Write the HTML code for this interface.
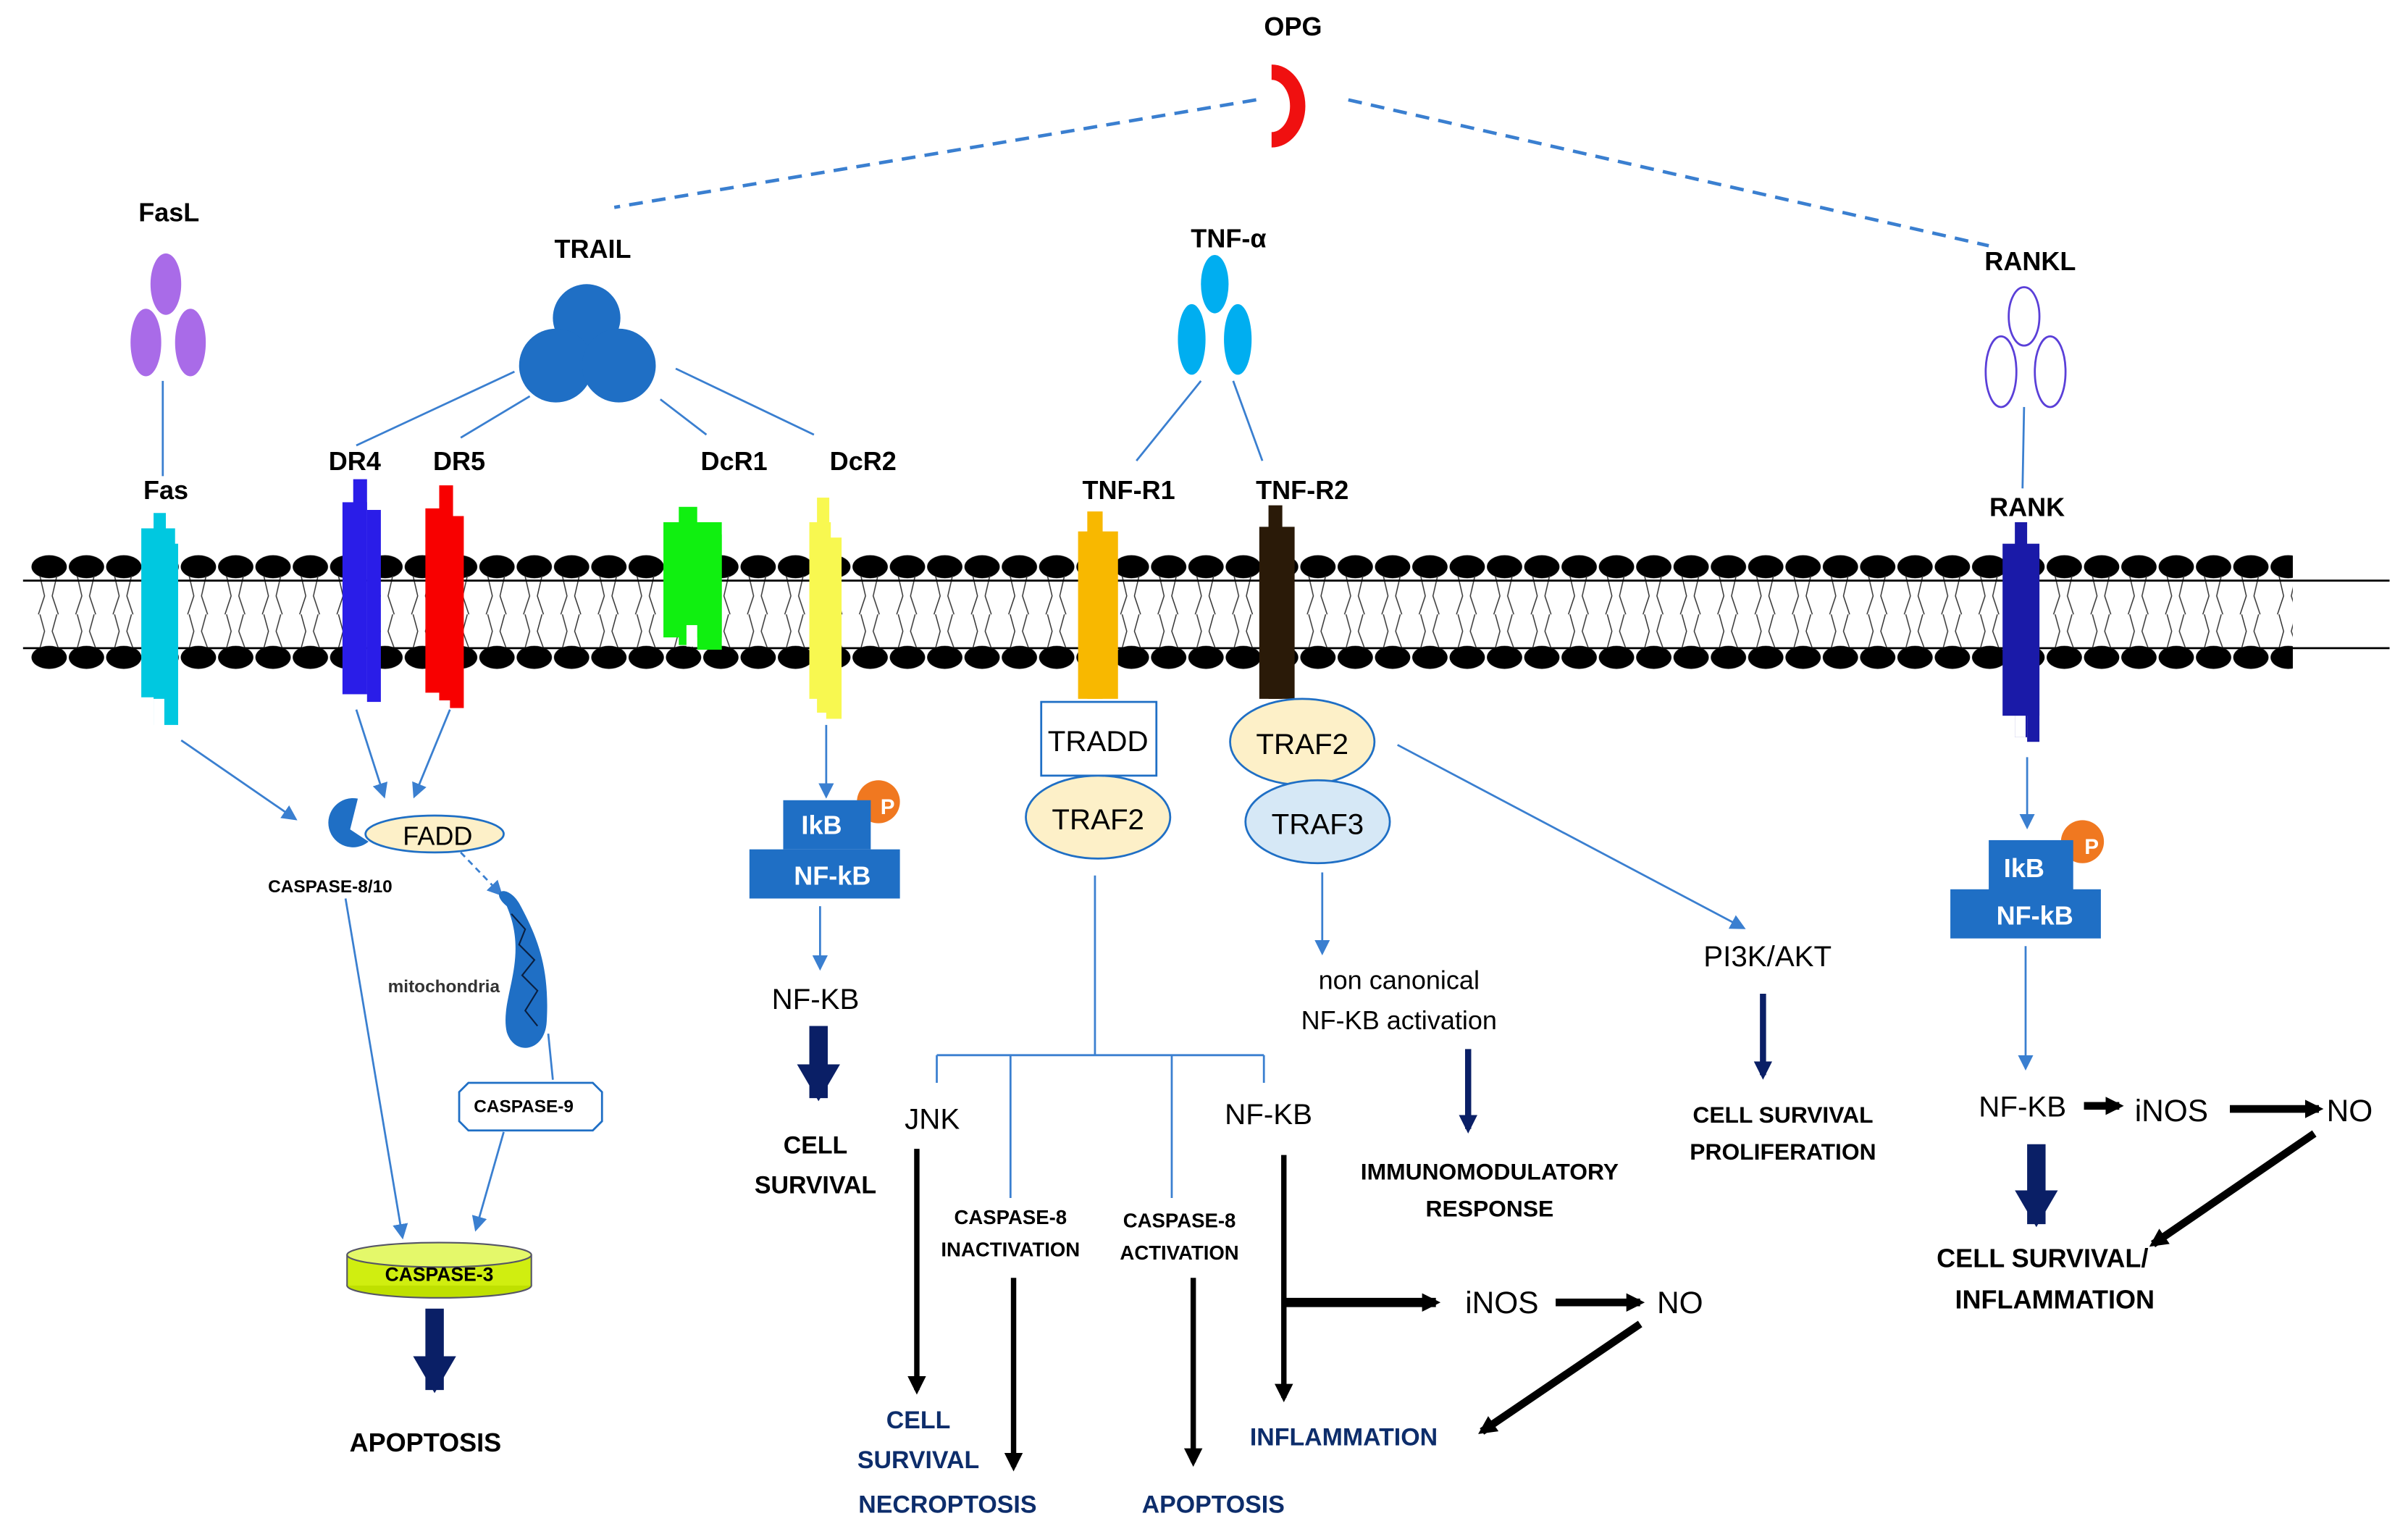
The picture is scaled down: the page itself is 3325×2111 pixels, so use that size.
<!DOCTYPE html>
<html><head><meta charset="utf-8"><style>
html,body{margin:0;padding:0;background:#fff;}
svg{display:block;}
text{font-family:"Liberation Sans",sans-serif;}
.b{font-weight:bold;}
</style></head><body>
<svg width="3325" height="2111" viewBox="0 0 1568 995.5" xmlns="http://www.w3.org/2000/svg">
<defs>
<pattern id="lip" x="20" y="355" width="24.3" height="90" patternUnits="userSpaceOnUse">
<ellipse cx="12" cy="14" rx="11.5" ry="7.5" fill="#000"/>
<ellipse cx="12" cy="73" rx="11.5" ry="7.5" fill="#000"/>
<path d="M6 20 L9 33 L5 45 M17 20 L14 33 L18 45 M6 45 L9 56 L6 67 M17 45 L14 56 L18 67" stroke="#333" stroke-width="0.7" fill="none"/>
</pattern>
<marker id="ab" markerWidth="10" markerHeight="10" refX="8" refY="5" orient="auto" markerUnits="userSpaceOnUse"><path d="M0 0 L10 5 L0 10 z" fill="#3a7fd0"/></marker>
<marker id="ak" markerWidth="12" markerHeight="12" refX="9" refY="6" orient="auto" markerUnits="userSpaceOnUse"><path d="M0 0 L12 6 L0 12 z" fill="#000"/></marker>
<marker id="an" markerWidth="12" markerHeight="12" refX="9" refY="6" orient="auto" markerUnits="userSpaceOnUse"><path d="M0 0 L12 6 L0 12 z" fill="#0a1f66"/></marker>
<marker id="anb" markerWidth="30" markerHeight="28" refX="22" refY="14" orient="auto" markerUnits="userSpaceOnUse"><path d="M0 0 L24 14 L0 28 z" fill="#0a1f66"/></marker>
</defs>

<rect x="20" y="355" width="1473" height="90" fill="url(#lip)"/>
<line x1="15" y1="378" x2="1556" y2="378" stroke="#000" stroke-width="1.3"/>
<line x1="15" y1="422" x2="1556" y2="422" stroke="#000" stroke-width="1.3"/>

<text x="842" y="23" class="b" font-size="17" text-anchor="middle">OPG</text>
<path d="M828 42 A22 27 0 0 1 828 96 L828 86 A12 17 0 0 0 828 52 Z" fill="#f01010"/>
<line x1="818" y1="65" x2="400" y2="135" stroke="#3a7fd0" stroke-width="2.2" stroke-dasharray="9,6"/>
<line x1="878" y1="65" x2="1295" y2="160" stroke="#3a7fd0" stroke-width="2.2" stroke-dasharray="9,6"/>

<text x="110" y="144" class="b" font-size="17" text-anchor="middle">FasL</text>
<ellipse cx="108" cy="185" rx="10" ry="20" fill="#a96be8"/>
<ellipse cx="95" cy="223" rx="10" ry="22" fill="#a96be8"/>
<ellipse cx="124" cy="223" rx="10" ry="22" fill="#a96be8"/>
<line x1="106" y1="248" x2="106" y2="310" stroke="#3a7fd0" stroke-width="1.3"/>
<text x="108" y="325" class="b" font-size="17" text-anchor="middle">Fas</text>
<g fill="#00c8e0"><rect x="100" y="334" width="8" height="138"/><rect x="92" y="344" width="22" height="110"/><rect x="108" y="354" width="8" height="118"/></g>
<rect x="100" y="455" width="7" height="20" fill="#fff"/>

<text x="386" y="168" class="b" font-size="17" text-anchor="middle">TRAIL</text>
<circle cx="382" cy="207" r="22" fill="#1f6fc5"/>
<circle cx="362" cy="238" r="24" fill="#1f6fc5"/>
<circle cx="403" cy="238" r="24" fill="#1f6fc5"/>
<g stroke="#3a7fd0" stroke-width="1.3">
<line x1="335" y1="242" x2="232" y2="290"/>
<line x1="345" y1="258" x2="300" y2="285"/>
<line x1="430" y1="260" x2="460" y2="283"/>
<line x1="440" y1="240" x2="530" y2="283"/>
</g>
<text x="231" y="306" class="b" font-size="17" text-anchor="middle">DR4</text>
<text x="299" y="306" class="b" font-size="17" text-anchor="middle">DR5</text>
<text x="478" y="306" class="b" font-size="17" text-anchor="middle">DcR1</text>
<text x="562" y="306" class="b" font-size="17" text-anchor="middle">DcR2</text>
<g fill="#2a1de8"><rect x="230" y="312" width="9" height="140"/><rect x="223" y="327" width="16" height="125"/><rect x="239" y="332" width="9" height="125"/></g>
<g fill="#f80000"><rect x="286" y="316" width="9" height="140"/><rect x="277" y="331" width="16" height="120"/><rect x="293" y="336" width="9" height="125"/></g>
<g fill="#10f010"><rect x="442" y="330" width="12" height="90"/><rect x="432" y="340" width="38" height="75"/><rect x="454" y="348" width="16" height="75"/></g>
<rect x="447" y="407" width="7" height="14" fill="#fff"/>
<g fill="#f8f850"><rect x="532" y="324" width="8" height="140"/><rect x="527" y="340" width="14" height="115"/><rect x="538" y="350" width="10" height="118"/></g>

<text x="800" y="161" class="b" font-size="17" text-anchor="middle">TNF-α</text>
<ellipse cx="791" cy="185" rx="9" ry="19" fill="#00aef0"/>
<ellipse cx="776" cy="221" rx="9" ry="23" fill="#00aef0"/>
<ellipse cx="806" cy="221" rx="9" ry="23" fill="#00aef0"/>
<line x1="782" y1="248" x2="740" y2="300" stroke="#3a7fd0" stroke-width="1.3"/>
<line x1="803" y1="248" x2="822" y2="300" stroke="#3a7fd0" stroke-width="1.3"/>
<text x="735" y="325" class="b" font-size="17" text-anchor="middle">TNF-R1</text>
<text x="848" y="325" class="b" font-size="17" text-anchor="middle">TNF-R2</text>
<g fill="#f8b800"><rect x="708" y="333" width="10" height="122"/><rect x="702" y="346" width="26" height="109"/></g>
<g fill="#2a1a08"><rect x="826" y="329" width="9" height="126"/><rect x="820" y="343" width="23" height="112"/></g>

<text x="1322" y="176" class="b" font-size="17" text-anchor="middle">RANKL</text>
<g fill="none" stroke="#5a3fd8" stroke-width="1.3">
<ellipse cx="1318" cy="206" rx="10" ry="19"/><ellipse cx="1303" cy="242" rx="10" ry="23"/><ellipse cx="1335" cy="242" rx="10" ry="23"/></g>
<line x1="1318" y1="265" x2="1317" y2="318" stroke="#3a7fd0" stroke-width="1.3"/>
<text x="1320" y="336" class="b" font-size="17" text-anchor="middle">RANK</text>
<g fill="#1a1aa8"><rect x="1312" y="340" width="8" height="140"/><rect x="1304" y="354" width="24" height="112"/><rect x="1320" y="360" width="8" height="123"/></g>
<rect x="1312" y="466" width="7" height="14" fill="#fff"/>

<g stroke="#3a7fd0" stroke-width="1.3" fill="none">
<line x1="118" y1="482" x2="192" y2="533" marker-end="url(#ab)"/>
<line x1="232" y1="462" x2="250" y2="518" marker-end="url(#ab)"/>
<line x1="293" y1="462" x2="270" y2="518" marker-end="url(#ab)"/>
<line x1="300" y1="555" x2="326" y2="582" stroke-dasharray="4,3" marker-end="url(#ab)"/>
<line x1="225" y1="585" x2="262" y2="805" marker-end="url(#ab)"/>
<line x1="357" y1="673" x2="360" y2="703"/>
<line x1="328" y1="737" x2="310" y2="800" marker-end="url(#ab)"/>
</g>
<path d="M233 520 A16 16 0 1 0 240 548 L228 540 Z" fill="#1f6fc5"/>
<ellipse cx="283" cy="543" rx="45" ry="12" fill="#fdf0c8" stroke="#1f6fc5" stroke-width="1.3"/>
<text x="285" y="550" font-size="17" text-anchor="middle">FADD</text>
<text x="215" y="581" class="b" font-size="11.5" text-anchor="middle">CASPASE-8/10</text>
<path d="M330 590 C318 580 330 575 338 588 C350 610 358 630 356 665 C355 685 335 688 330 672 C325 650 345 625 330 590 Z" fill="#1f6fc5"/>
<path d="M333 595 L342 605 L338 615 L348 625 L340 635 L350 645 L342 658 L350 668" stroke="#0a1f40" stroke-width="1" fill="none"/>
<text x="289" y="646" class="b" font-size="11.5" text-anchor="middle" fill="#333">mitochondria</text>
<path d="M305 705 L386 705 L392 711 L392 730 L386 736 L305 736 L299 730 L299 711 Z" fill="#fff" stroke="#1f6fc5" stroke-width="1.3"/>
<text x="341" y="724" class="b" font-size="11.5" text-anchor="middle">CASPASE-9</text>
<ellipse cx="286" cy="837" rx="60" ry="8" fill="#bfe000" stroke="#556" stroke-width="1"/>
<rect x="226" y="817" width="120" height="20" fill="#d0ee10"/>
<ellipse cx="286" cy="817" rx="60" ry="8" fill="#e4f86a" stroke="#556" stroke-width="1"/>
<line x1="226" y1="817" x2="226" y2="837" stroke="#556"/><line x1="346" y1="817" x2="346" y2="837" stroke="#556"/>
<text x="286" y="834" class="b" font-size="12.5" text-anchor="middle">CASPASE-3</text>
<line x1="283" y1="852" x2="283" y2="905" stroke="#0a1f66" stroke-width="12" marker-end="url(#anb)"/>
<text x="277" y="945" class="b" font-size="17" text-anchor="middle">APOPTOSIS</text>

<line x1="538" y1="472" x2="538" y2="518" stroke="#3a7fd0" stroke-width="1.3" marker-end="url(#ab)"/>
<circle cx="572" cy="522" r="14" fill="#f07820"/><text x="578" y="530" font-size="14" fill="#fff" class="b" text-anchor="middle">P</text>
<rect x="510" y="521" width="57" height="32" fill="#1f6fc5"/>
<rect x="488" y="553" width="98" height="32" fill="#1f6fc5"/>
<text x="535" y="543" class="b" font-size="17" fill="#fff" text-anchor="middle">IkB</text>
<text x="542" y="576" class="b" font-size="17" fill="#fff" text-anchor="middle">NF-kB</text>
<line x1="534" y1="590" x2="534" y2="630" stroke="#3a7fd0" stroke-width="1.3" marker-end="url(#ab)"/>
<text x="531" y="657" font-size="19" text-anchor="middle">NF-KB</text>
<line x1="533" y1="668" x2="533" y2="715" stroke="#0a1f66" stroke-width="12" marker-end="url(#anb)"/>
<text x="531" y="751" class="b" font-size="16" text-anchor="middle">CELL</text>
<text x="531" y="777" class="b" font-size="16" text-anchor="middle">SURVIVAL</text>

<rect x="678" y="457" width="75" height="48" fill="#fff" stroke="#1f6fc5" stroke-width="1.3"/>
<text x="715" y="489" font-size="19" text-anchor="middle">TRADD</text>
<ellipse cx="715" cy="532" rx="47" ry="27" fill="#fdf0c8" stroke="#1f6fc5" stroke-width="1.3"/>
<text x="715" y="540" font-size="19" text-anchor="middle">TRAF2</text>
<g stroke="#3a7fd0" stroke-width="1.3" fill="none">
<line x1="713" y1="570" x2="713" y2="687"/>
<line x1="610" y1="687" x2="823" y2="687"/>
<line x1="610" y1="687" x2="610" y2="705"/>
<line x1="658" y1="687" x2="658" y2="780"/>
<line x1="763" y1="687" x2="763" y2="780"/>
<line x1="823" y1="687" x2="823" y2="705"/>
</g>
<text x="607" y="735" font-size="19" text-anchor="middle">JNK</text>
<text x="826" y="732" font-size="19" text-anchor="middle">NF-KB</text>
<text x="658" y="797" class="b" font-size="13" text-anchor="middle">CASPASE-8</text>
<text x="658" y="818" class="b" font-size="13" text-anchor="middle">INACTIVATION</text>
<text x="768" y="799" class="b" font-size="13" text-anchor="middle">CASPASE-8</text>
<text x="768" y="820" class="b" font-size="13" text-anchor="middle">ACTIVATION</text>
<g stroke="#000" stroke-width="3.5" fill="none">
<line x1="597" y1="748" x2="597" y2="905" marker-end="url(#ak)"/>
<line x1="660" y1="832" x2="660" y2="955" marker-end="url(#ak)"/>
<line x1="777" y1="832" x2="777" y2="952" marker-end="url(#ak)"/>
<line x1="836" y1="752" x2="836" y2="910" marker-end="url(#ak)"/>
<line x1="836" y1="848" x2="935" y2="848" stroke-width="6" marker-end="url(#ak)"/>
<line x1="1013" y1="848" x2="1068" y2="848" stroke-width="5" marker-end="url(#ak)"/>
<line x1="1068" y1="862" x2="965" y2="932" stroke-width="5" marker-end="url(#ak)"/>
</g>
<text x="978" y="855" font-size="20" text-anchor="middle">iNOS</text>
<text x="1094" y="855" font-size="20" text-anchor="middle">NO</text>
<g class="b" font-size="16" fill="#0d2d6b" text-anchor="middle">
<text x="598" y="930">CELL</text>
<text x="598" y="956">SURVIVAL</text>
<text x="617" y="985">NECROPTOSIS</text>
<text x="790" y="985">APOPTOSIS</text>
<text x="875" y="941">INFLAMMATION</text>
</g>

<ellipse cx="848" cy="483" rx="47" ry="28" fill="#fdf0c8" stroke="#1f6fc5" stroke-width="1.3"/>
<text x="848" y="491" font-size="19" text-anchor="middle">TRAF2</text>
<ellipse cx="858" cy="535" rx="47" ry="27" fill="#d6e8f6" stroke="#1f6fc5" stroke-width="1.3"/>
<text x="858" y="543" font-size="19" text-anchor="middle">TRAF3</text>
<line x1="910" y1="485" x2="1135" y2="604" stroke="#3a7fd0" stroke-width="1.3" marker-end="url(#ab)"/>
<line x1="861" y1="568" x2="861" y2="620" stroke="#3a7fd0" stroke-width="1.3" marker-end="url(#ab)"/>
<text x="911" y="644" font-size="17" text-anchor="middle">non canonical</text>
<text x="911" y="670" font-size="17" text-anchor="middle">NF-KB activation</text>
<line x1="956" y1="683" x2="956" y2="735" stroke="#0a1f66" stroke-width="4" marker-end="url(#an)"/>
<text x="970" y="768" class="b" font-size="15" text-anchor="middle">IMMUNOMODULATORY</text>
<text x="970" y="792" class="b" font-size="15" text-anchor="middle">RESPONSE</text>
<text x="1151" y="629" font-size="19" text-anchor="middle">PI3K/AKT</text>
<line x1="1148" y1="647" x2="1148" y2="700" stroke="#0a1f66" stroke-width="4" marker-end="url(#an)"/>
<text x="1161" y="731" class="b" font-size="15" text-anchor="middle">CELL SURVIVAL</text>
<text x="1161" y="755" class="b" font-size="15" text-anchor="middle">PROLIFERATION</text>

<line x1="1320" y1="493" x2="1320" y2="538" stroke="#3a7fd0" stroke-width="1.3" marker-end="url(#ab)"/>
<circle cx="1356" cy="548" r="14" fill="#f07820"/><text x="1362" y="556" font-size="14" fill="#fff" class="b" text-anchor="middle">P</text>
<rect x="1295" y="547" width="55" height="34" fill="#1f6fc5"/>
<rect x="1270" y="579" width="98" height="32" fill="#1f6fc5"/>
<text x="1318" y="571" class="b" font-size="17" fill="#fff" text-anchor="middle">IkB</text>
<text x="1325" y="602" class="b" font-size="17" fill="#fff" text-anchor="middle">NF-kB</text>
<line x1="1319" y1="616" x2="1319" y2="695" stroke="#3a7fd0" stroke-width="1.3" marker-end="url(#ab)"/>
<text x="1317" y="727" font-size="19" text-anchor="middle">NF-KB</text>
<text x="1414" y="730" font-size="20" text-anchor="middle">iNOS</text>
<text x="1530" y="730" font-size="20" text-anchor="middle">NO</text>
<g stroke="#000" stroke-width="5" fill="none">
<line x1="1357" y1="720" x2="1380" y2="720" marker-end="url(#ak)"/>
<line x1="1452" y1="722" x2="1510" y2="722" marker-end="url(#ak)"/>
<line x1="1507" y1="738" x2="1402" y2="810" marker-end="url(#ak)"/>
</g>
<line x1="1326" y1="745" x2="1326" y2="797" stroke="#0a1f66" stroke-width="12" marker-end="url(#anb)"/>
<text x="1330" y="825" class="b" font-size="17" text-anchor="middle">CELL SURVIVAL/</text>
<text x="1338" y="852" class="b" font-size="17" text-anchor="middle">INFLAMMATION</text>
</svg>
</body></html>
